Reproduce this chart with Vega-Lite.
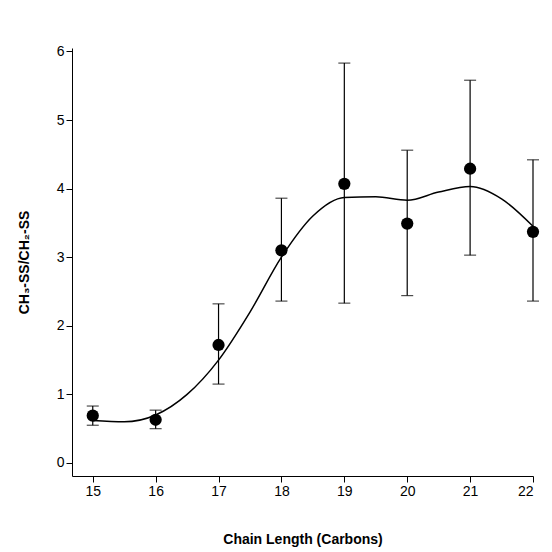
{
  "$schema": "https://vega.github.io/schema/vega-lite/v6.json",
  "width": 461, "height": 428,
  "padding": {"left": 17, "top": 44, "right": 12, "bottom": 5},
  "config": {"view": {"stroke": null}, "axis": {"grid": false, "domainColor": "black", "tickColor": "black", "labelColor": "black", "titleColor": "black", "labelFont": "Liberation Sans", "titleFont": "Liberation Sans", "labelFontSize": 14, "titleFontSize": 14, "tickSize": 6, "format": "d"}},
  "datasets": {
    "pts": [
      {"c": 15, "r": 0.69, "lo": 0.55, "hi": 0.83},
      {"c": 16, "r": 0.63, "lo": 0.5, "hi": 0.77},
      {"c": 17, "r": 1.72, "lo": 1.15, "hi": 2.32},
      {"c": 18, "r": 3.1, "lo": 2.36, "hi": 3.86},
      {"c": 19, "r": 4.07, "lo": 2.33, "hi": 5.83},
      {"c": 20, "r": 3.49, "lo": 2.44, "hi": 4.56},
      {"c": 21, "r": 4.29, "lo": 3.03, "hi": 5.58},
      {"c": 22, "r": 3.37, "lo": 2.36, "hi": 4.42}
    ],
    "fit": [
      {"c": 15, "r": 0.62}, {"c": 15.5, "r": 0.6}, {"c": 16, "r": 0.7}, {"c": 16.5, "r": 1.0},
      {"c": 17, "r": 1.5}, {"c": 17.5, "r": 2.2}, {"c": 18, "r": 3.0}, {"c": 18.5, "r": 3.6},
      {"c": 19, "r": 3.87}, {"c": 19.5, "r": 3.88}, {"c": 20, "r": 3.83}, {"c": 20.5, "r": 3.95},
      {"c": 21, "r": 4.03}, {"c": 21.5, "r": 3.85}, {"c": 22, "r": 3.45}
    ]
  },
  "layer": [
    {"data": {"name": "fit"}, "mark": {"type": "line", "interpolate": "monotone", "color": "black", "strokeWidth": 1.5},
     "encoding": {
       "x": {"field": "c", "type": "quantitative", "scale": {"domain": [14.67, 22], "nice": false, "zero": false}, "axis": {"values": [15,16,17,18,19,20,21,22], "title": "Chain Length (Carbons)", "titlePadding": 34, "titleFontWeight": "bold"}},
       "y": {"field": "r", "type": "quantitative", "scale": {"domain": [-0.19, 6.05], "nice": false, "zero": false}, "axis": {"values": [0,1,2,3,4,5,6], "title": "CH₃-SS/CH₂-SS", "titlePadding": 25, "titleFontWeight": "bold"}}
     }},
    {"data": {"name": "pts"}, "mark": {"type": "rule", "color": "black", "strokeWidth": 1.2},
     "encoding": {"x": {"field": "c", "type": "quantitative"}, "y": {"field": "lo", "type": "quantitative"}, "y2": {"field": "hi"}}},
    {"data": {"name": "pts"}, "mark": {"type": "tick", "color": "black", "orient": "horizontal", "size": 12, "thickness": 1.2},
     "encoding": {"x": {"field": "c", "type": "quantitative"}, "y": {"field": "lo", "type": "quantitative"}}},
    {"data": {"name": "pts"}, "mark": {"type": "tick", "color": "black", "orient": "horizontal", "size": 12, "thickness": 1.2},
     "encoding": {"x": {"field": "c", "type": "quantitative"}, "y": {"field": "hi", "type": "quantitative"}}},
    {"data": {"name": "pts"}, "mark": {"type": "point", "filled": true, "color": "black", "opacity": 1, "size": 150},
     "encoding": {"x": {"field": "c", "type": "quantitative"}, "y": {"field": "r", "type": "quantitative"}}}
  ]
}
